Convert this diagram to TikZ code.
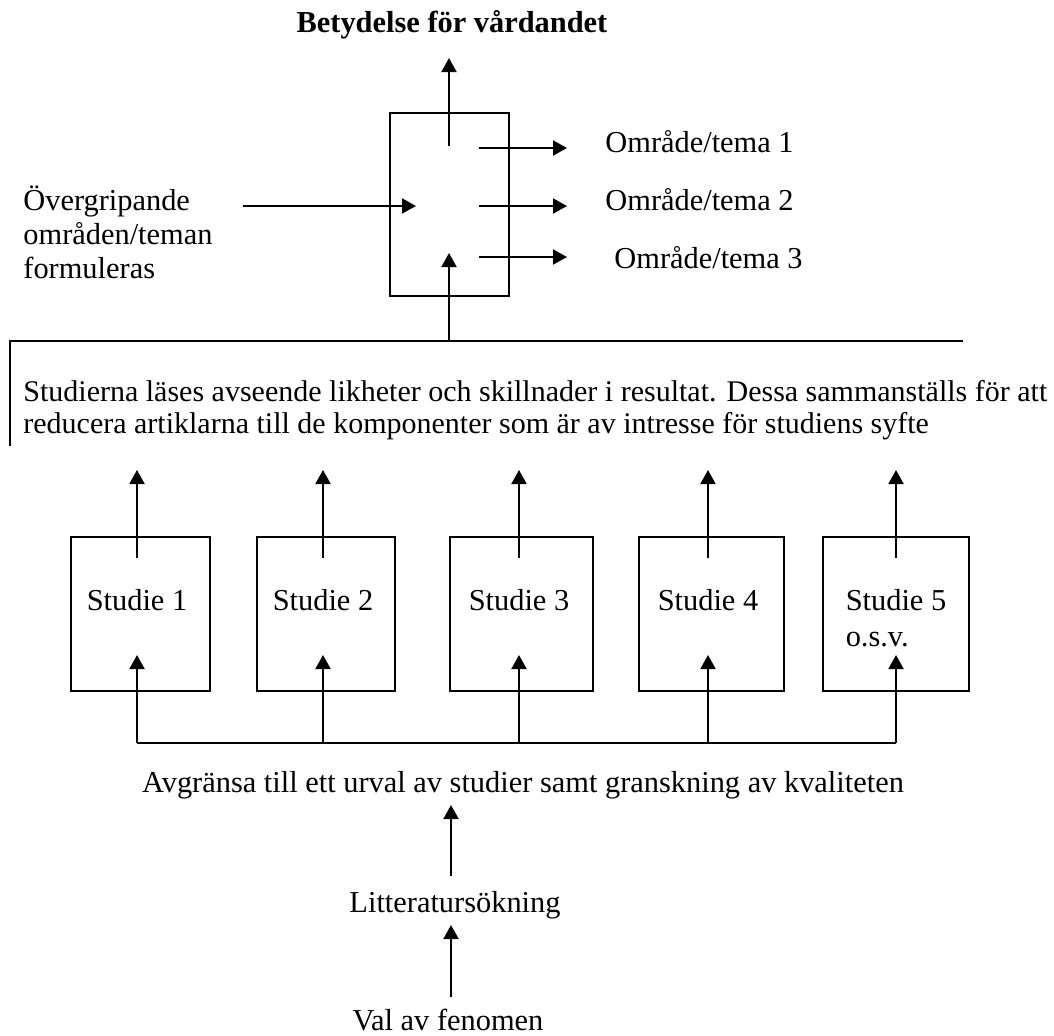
\documentclass[tikz,border=0pt]{standalone}
\usepackage{fontspec}
\setmainfont{Liberation Serif}
\usetikzlibrary{arrows.meta}
\begin{document}
\begin{tikzpicture}[x=0.5pt,y=-0.5pt,
                every node/.style={font=\fontsize{15.2}{17}\selectfont, inner sep=0pt},
                arr/.style={-{Triangle[length=7pt,width=7.5pt]}, line width=1pt},
                box/.style={draw, line width=1pt}]
                \useasboundingbox (0,0) rectangle (1054,1035);
                % top part
                \node[font=\fontsize{15.2}{17}\selectfont\bfseries, anchor=base] (meaning) at (452,32) {Betydelse för vårdandet};
                \node[box, minimum width=59.5pt, minimum height=91.5pt] (hub) at (449.5,204.5) {};
                \node[anchor=base west, align=left, font=\fontsize{15.2}{17}\selectfont] (themes) at (23,278) {Övergripande\\områden/teman\\formuleras};
                \node[anchor=base west] (area1) at (605,152) {Område/tema 1};
                \node[anchor=base west] (area2) at (605,210) {Område/tema 2};
                \node[anchor=base west] (area3) at (614,268) {Område/tema 3};
                \coordinate (hubout) at (449,146);
                \coordinate (meaningin) at (449,58);
                \coordinate (themesout) at (243,206);
                \coordinate (hubleft) at (416,206);
                \coordinate (join) at (449,341);
                \coordinate (hubin) at (449,253);
                \draw[arr] (hubout) -- (meaningin);
                \draw[arr] (themesout) -- (hubleft);
                \draw[arr] (join) -- (hubin);
                \foreach \y [count=\i] in {148,206,257}{
                    \coordinate (out\i) at (479,\y);
                    \coordinate (tip\i) at (567,\y);
                    \draw[arr] (out\i) -- (tip\i);
                }
                % reading of the studies
                \draw[line width=1pt] (10,446) -- (10,341) -- (963,341);
                \node[anchor=base west, align=left, font=\fontsize{15}{16}\selectfont] (summary) at (23,433) {Studierna läses avseende likheter och skillnader i resultat. Dessa sammanställs för att\\reducera artiklarna till de komponenter som är av intresse för studiens syfte};
                % the studies
                \foreach \l/\r/\a/\b/\t [count=\i] in {71/210/137/610/{Studie 1}, 257/395/323/610/{Studie 2}, 450/593/519/610/{Studie 3}, 639/784/708/610/{Studie 4}, 823/969/896/646/{Studie 5\\o.s.v.}}{
                    \node[box, minimum width={(\r-\l)*0.5pt}, minimum height=77pt] (study\i) at ({(\l+\r)/2},614) {};
                    \node[anchor=base, align=left, font=\fontsize{15.2}{18}\selectfont] (name\i) at (\a,\b) {\t};
                    \coordinate (upfrom\i) at (\a,558);
                    \coordinate (up\i) at (\a,470);
                    \coordinate (feed\i) at (\a,743);
                    \coordinate (in\i) at (\a,655);
                    \draw[arr] (upfrom\i) -- (up\i);
                    \draw[arr] (feed\i) -- (in\i);
                }
                \draw[line width=1pt] (feed1) -- (feed5);
                % bottom part
                \node[anchor=base] (select) at (523,792) {Avgränsa till ett urval av studier samt granskning av kvaliteten};
                \node[anchor=base] (search) at (455,912) {Litteratursökning};
                \node[anchor=base] (topic) at (448,1030) {Val av fenomen};
                \coordinate (searchout) at (451,876);
                \coordinate (selectin) at (451,805);
                \coordinate (topicout) at (451,997);
                \coordinate (searchin) at (451,925);
                \draw[arr] (searchout) -- (selectin);
                \draw[arr] (topicout) -- (searchin);
            \end{tikzpicture}
\end{document}
